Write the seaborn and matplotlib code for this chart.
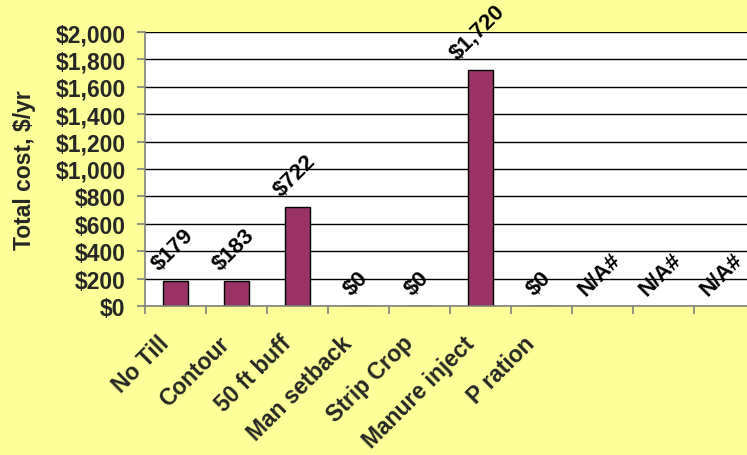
import matplotlib
matplotlib.use("Agg")
import matplotlib.pyplot as plt
import matplotlib.transforms as mtrans
import seaborn as sns
import numpy as np
import pandas as pd
from matplotlib.ticker import FuncFormatter, MultipleLocator, FixedLocator

categories = ["No Till", "Contour", "50 ft buff", "Man setback", "Strip Crop",
              "Manure inject", "P ration", "", "", ""]
values = [179, 183, 722, 0, 0, 1720, 0, np.nan, np.nan, np.nan]
value_labels = ["$179", "$183", "$722", "$0", "$0", "$1,720", "$0", "N/A#", "N/A#", "N/A#"]

sns.set_style("white")
plt.rcParams['font.family'] = ['Liberation Sans', 'DejaVu Sans']

BG = "#FFFF99"
BAR = "#993366"
FS = 16.5

keys = [f"c{i}" for i in range(len(categories))]
df = pd.DataFrame({"key": keys, "value": values})

fig = plt.figure(figsize=(7.47, 4.56), dpi=100, facecolor=BG)
ax = fig.add_axes([145/747, (456-307)/456, 610/747, 274/456])
ax.set_facecolor("white")

sns.barplot(data=df, x="key", y="value", order=keys, color=BAR, width=0.42,
            edgecolor="black", linewidth=1, saturation=1, ax=ax)

ax.set_xlim(-0.5, len(keys) - 0.5)
ax.set_ylim(0, 2000)
ax.yaxis.set_major_locator(MultipleLocator(200))
ax.yaxis.set_major_formatter(FuncFormatter(lambda v, p: f"${int(v):,}"))
ax.grid(axis="y", color="black", linewidth=1)
ax.set_axisbelow(True)

for s in ["top", "right"]:
    ax.spines[s].set_visible(False)
for s in ["left", "bottom"]:
    ax.spines[s].set_color("#808080")
    ax.spines[s].set_linewidth(1.2)

# value labels
for i, (v, lab) in enumerate(zip(values, value_labels)):
    h = 0 if np.isnan(v) else v
    ax.annotate(lab, (i, h), xytext=(-2, 5), textcoords="offset points",
                rotation=45, ha="center", va="bottom", fontsize=16,
                fontweight="bold", color="black")

# x ticks
ax.set_xticks(range(len(keys)))
ax.set_xticklabels(categories, rotation=45, ha="right", va="center",
                   rotation_mode="anchor", fontsize=FS, fontweight="bold")
ax.tick_params(axis="x", which="major", length=0, pad=24)
offset = mtrans.ScaledTranslation(-10/100, 0, fig.dpi_scale_trans)
for t in ax.get_xticklabels():
    t.set_transform(t.get_transform() + offset)
ax.xaxis.set_minor_locator(FixedLocator(np.arange(-0.5, len(keys), 1.0)))
ax.tick_params(axis="x", which="minor", length=6, width=1.2, color="#808080",
               direction="out", bottom=True)
ax.tick_params(axis="y", length=6, width=1.2, color="#808080", direction="out",
               left=True, labelsize=FS, pad=8)
for t in ax.get_yticklabels():
    t.set_fontweight("bold")

ax.set_xlabel("")
ax.set_ylabel("Total cost, $/yr", fontsize=FS, fontweight="bold", labelpad=14)

fig.savefig("out.png", dpi=100, facecolor=BG)
